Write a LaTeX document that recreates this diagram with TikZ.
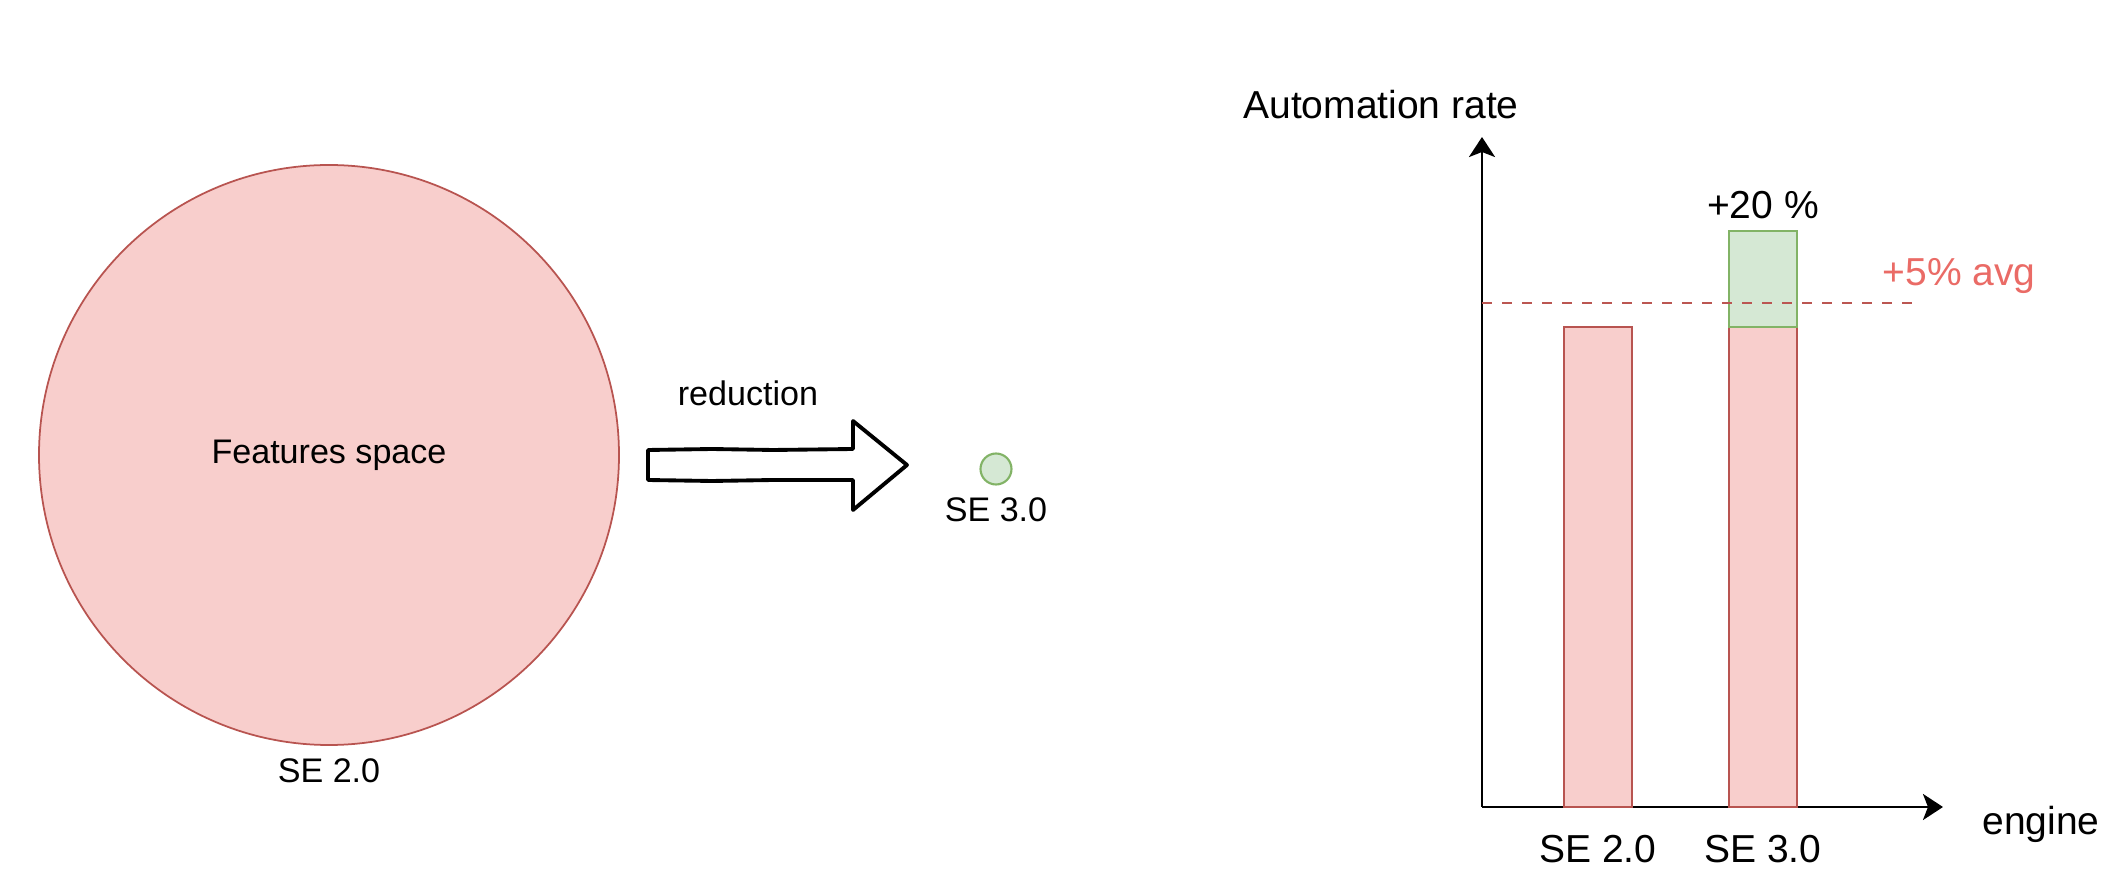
\documentclass[tikz,border=0pt]{standalone}
\usepackage{fontspec}
\setmainfont{Liberation Sans}
\usetikzlibrary{
    positioning,
    arrows.meta
}
\definecolor{spacefill}{HTML}{F8CECC}
\definecolor{spaceline}{HTML}{B85450}
\definecolor{gainfill}{HTML}{D5E8D4}
\definecolor{gainline}{HTML}{82B366}
\definecolor{avgred}{HTML}{EA6B66}
\tikzset {
    small text/.style = {font = \fontsize{9.7}{12}\selectfont},
    chart text/.style = {font = \fontsize{11.1}{13}\selectfont},
    bar/.style = {
        line width = 0.6pt,
        minimum width = 0.68cm,
        inner sep = 0pt,
        outer sep = 0pt,
        anchor = south
    },
    red bar/.style = {bar, draw = spaceline, fill = spacefill},
    green bar/.style = {bar, draw = gainline, fill = gainfill},
    axis/.style = {
        line width = 0.8pt,
        -{Stealth[length = 0.2cm, width = 0.26cm, inset = 0.05cm]}
    },
    avg line/.style = {
        draw = avgred!80!black,
        line width = 0.6pt,
        dash pattern = on 0.1cm off 0.1cm
    },
    fat arrow/.style = {draw, line width = 1.1pt, line join = round},
    %
    space disc/.style = {
        circle, draw = spaceline, fill = spacefill,
        line width = 0.5pt, minimum size = 5.8cm
    },
    small disc/.style = {
        circle, draw = gainline, fill = gainfill,
        line width = 0.6pt, minimum size = 0.31cm, inner sep = 0pt
    }
}

\begin{document}
\begin{tikzpicture}
            \useasboundingbox (0, 0) rectangle (21.12, 8.80);
            % features space and its reduction
            \node (space) [space disc, small text] at (3.29, 4.25) {Features space};
            \node (spacename) [small text, below = 0pt of space] {SE 2.0};
            \draw [fat arrow] (6.48, 4.30) -- (7.12, 4.31) -- (7.73, 4.30)
                -- (8.53, 4.31) -- (8.53, 4.59) -- (9.07, 4.15) -- (8.53, 3.70)
                -- (8.53, 4.00) -- (7.73, 4.00) -- (7.12, 3.99) -- (6.48, 4.00)
                -- cycle;
            \node (reduction) [small text] at (7.48, 4.87) {reduction};
            \node (dot) [small disc] at (9.96, 4.11) {};
            \node (dotname) [small text, below = 0pt of dot] {SE 3.0};
            % chart
            \coordinate (o) at (14.82, 0.73);
            \coordinate (ytip) at (14.82, 7.43);
            \coordinate (xtip) at (19.43, 0.73);
            \draw [axis] (o) -- (ytip);
            \draw [axis] (o) -- (xtip);
            \node (bar1) [red bar, minimum height = 4.80cm] at (15.98, 0.73) {};
            \node (bar2) [red bar, minimum height = 4.80cm] at (17.63, 0.73) {};
            \node (gain) [green bar, minimum height = 0.96cm] at (bar2.north) {};
            \coordinate (avga) at (14.82, 5.77);
            \coordinate (avgb) at (19.12, 5.77);
            \draw [avg line] (avga) -- (avgb);
            \node (ylabel) [chart text] at (13.81, 7.75) {Automation rate};
            \node (xlabel) [chart text] at (20.41, 0.56) {engine};
            \node (gainlabel) [chart text, above = 0pt of gain] {+20 \%};
            \node (avglabel) [chart text, text = avgred] at (19.59, 6.04) {+5\% avg};
            \node (name1) [chart text, below = 0.16cm of bar1] {SE 2.0};
            \node (name2) [chart text, below = 0.16cm of bar2] {SE 3.0};
        \end{tikzpicture}
\end{document}
